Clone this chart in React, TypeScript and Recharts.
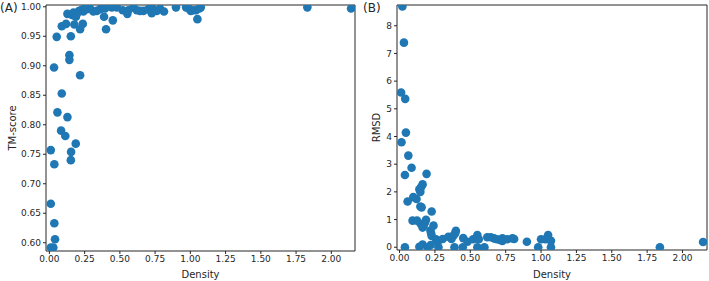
import React from 'react';
import { ScatterChart, Scatter, XAxis, YAxis, ReferenceArea } from 'recharts';

// Panel A: density vs TM-score
const densityA = [
  0.033, 0.052, 0.088, 0.118, 0.128, 0.152, 0.142, 0.142, 0.16, 0.17, 0.18, 0.188, 0.177, 0.207, 0.213,
  0.218, 0.218, 0.237, 0.241, 0.265, 0.289, 0.312, 0.336, 0.36, 0.379, 0.395, 0.388, 0.402, 0.443, 0.478,
  0.45, 0.52, 0.553, 0.56, 0.596, 0.62, 0.643, 0.667, 0.702, 0.726, 0.738, 0.762, 0.726, 0.785, 0.813,
  0.898, 0.97, 0.988, 1.003, 1.021, 1.04, 1.064, 1.074, 1.05, 1.83, 2.14, 0.088, 0.057, 0.128, 0.083,
  0.113, 0.187, 0.01, 0.154, 0.152, 0.035, 0.01, 0.035, 0.04, 0.01, 0.028, 0.195, 0.23, 0.25,
];
const tmScore = [
  0.897, 0.949, 0.967, 0.971, 0.988, 0.95, 0.918, 0.91, 0.986, 0.99, 0.985, 0.983, 0.97, 0.992, 0.993,
  0.962, 0.884, 0.971, 0.992, 0.996, 0.997, 0.992, 0.993, 0.996, 0.999, 0.997, 0.983, 0.962, 0.999, 0.999,
  0.977, 0.994, 0.988, 0.994, 0.999, 0.994, 0.993, 0.993, 0.996, 0.999, 0.994, 0.993, 0.989, 0.997, 0.992,
  0.999, 0.999, 0.997, 0.993, 0.994, 0.994, 0.997, 0.999, 0.979, 0.999, 0.997, 0.853, 0.821, 0.813, 0.79,
  0.781, 0.768, 0.757, 0.754, 0.74, 0.733, 0.666, 0.633, 0.606, 0.592, 0.592, 0.988, 0.995, 0.997,
];

// Panel B: density vs RMSD
const densityB = [
  0.02, 0.031, 0.011, 0.04, 0.045, 0.014, 0.062, 0.085, 0.038, 0.191, 0.163, 0.152, 0.14, 0.147, 0.097,
  0.12, 0.057, 0.147, 0.156, 0.227, 0.092, 0.123, 0.187, 0.18, 0.15, 0.17, 0.163, 0.24, 0.218, 0.223,
  0.227, 0.258, 0.27, 0.305, 0.345, 0.367, 0.381, 0.398, 0.393, 0.45, 0.48, 0.52, 0.55, 0.56, 0.62,
  0.645, 0.668, 0.687, 0.71, 0.727, 0.727, 0.763, 0.798, 0.81, 0.9, 1.0, 1.03, 1.05, 1.07, 0.038,
  0.14, 0.163, 0.2, 0.22, 0.275, 0.388, 0.447, 0.55, 0.6, 0.98, 1.07, 1.84, 2.145,
];
const rmsd = [
  8.7, 7.39, 5.59, 5.36, 4.14, 3.79, 3.31, 2.87, 2.61, 2.65, 2.27, 2.17, 2.09, 2.0, 1.81,
  1.74, 1.65, 1.47, 1.44, 1.29, 0.96, 0.96, 0.99, 0.89, 0.84, 0.77, 0.71, 0.78, 0.6, 0.5,
  0.41, 0.29, 0.2, 0.3, 0.38, 0.3, 0.42, 0.59, 0.5, 0.33, 0.2, 0.29, 0.44, 0.29, 0.36,
  0.36, 0.32, 0.29, 0.26, 0.23, 0.32, 0.29, 0.32, 0.3, 0.2, 0.29, 0.29, 0.44, 0.23, 0.0,
  0.02, 0.1, 0.0, 0.08, 0.0, 0.0, 0.0, 0.0, 0.0, 0.0, 0.0, 0.0, 0.19,
];

const densityTicks = [0, 0.25, 0.5, 0.75, 1.0, 1.25, 1.5, 1.75, 2.0];
const tmTicks = [0.6, 0.65, 0.7, 0.75, 0.8, 0.85, 0.9, 0.95, 1.0];
const rmsdTicks = [0, 1, 2, 3, 4, 5, 6, 7, 8];

const BLUE = '#1f77b4';
const INK = '#262626';
const FONT = 'DejaVu Sans, sans-serif';
const tickStyle = { fill: INK, fontSize: 9, fontFamily: FONT };
const labelStyle = { fill: INK, fontSize: 10, fontFamily: FONT };

const Dot = (p: any) => <circle cx={p.cx} cy={p.cy} r={4.3} fill={BLUE} />;

const dataA = densityA.map((d, i) => ({ x: d, y: tmScore[i] }));
const dataB = densityB.map((d, i) => ({ x: d, y: rmsd[i] }));

interface PanelProps {
  data: { x: number; y: number }[];
  xDomain: [number, number];
  yDomain: [number, number];
  yTicks: number[];
  yFmt: (v: number) => string;
  yLabel: string;
  yLabelOffset: number;
  width: number;
  yAxisWidth: number;
  right: number;
  xAxisHeight: number;
}

const Panel: React.FC<PanelProps> = ({ data, xDomain, yDomain, yTicks, yFmt, yLabel, yLabelOffset, width, yAxisWidth, right, xAxisHeight }) => (
  <ScatterChart width={width} height={281} margin={{ top: 5, right, bottom: 0, left: 0 }}>
    <XAxis
      type="number"
      dataKey="x"
      domain={xDomain}
      ticks={densityTicks}
      allowDataOverflow
      height={xAxisHeight}
      axisLine={false}
      tickSize={3}
      tickMargin={2}
      tickLine={{ stroke: INK }}
      tick={tickStyle}
      tickFormatter={(v: number) => v.toFixed(2)}
      label={{ value: 'Density', position: 'insideBottom', offset: 3, style: labelStyle }}
    />
    <YAxis
      type="number"
      dataKey="y"
      domain={yDomain}
      ticks={yTicks}
      allowDataOverflow
      width={yAxisWidth}
      axisLine={false}
      tickSize={3}
      tickMargin={2}
      tickLine={{ stroke: INK }}
      tick={tickStyle}
      tickFormatter={yFmt}
      label={{ value: yLabel, angle: -90, position: 'insideLeft', offset: yLabelOffset, style: { ...labelStyle, textAnchor: 'middle' } }}
    />
    <Scatter data={data} shape={Dot} isAnimationActive={false} />
    <ReferenceArea
      x1={xDomain[0]}
      x2={xDomain[1]}
      y1={yDomain[0]}
      y2={yDomain[1]}
      fill="none"
      stroke={INK}
      strokeWidth={1}
      ifOverflow="visible"
    />
  </ScatterChart>
);

const tagStyle: React.CSSProperties = {
  position: 'absolute',
  top: 1,
  fontFamily: FONT,
  fontSize: 12,
  color: INK,
  lineHeight: '14px',
};

export default function App() {
  return (
    <div style={{ position: 'absolute', left: 0, top: 0, width: 709, height: 281, background: '#fff' }}>
      <div style={{ position: 'absolute', left: 0, top: 0 }}>
        <Panel
          data={dataA}
          xDomain={[-0.024, 2.168]}
          yDomain={[0.586, 1.003]}
          yTicks={tmTicks}
          yFmt={(v) => v.toFixed(2)}
          yLabel="TM-score"
          yLabelOffset={12}
          width={360}
          yAxisWidth={46}
          right={5}
          xAxisHeight={30}
        />
      </div>
      <div style={{ position: 'absolute', left: 350, top: 0 }}>
        <Panel
          data={dataB}
          xDomain={[-0.018, 2.173]}
          yDomain={[-0.1, 8.75]}
          yTicks={rmsdTicks}
          yFmt={(v) => String(v)}
          yLabel="RMSD"
          yLabelOffset={26}
          width={359}
          yAxisWidth={47}
          right={2}
          xAxisHeight={31}
        />
      </div>
      <span style={{ ...tagStyle, left: 0 }}>(A)</span>
      <span style={{ ...tagStyle, left: 363 }}>(B)</span>
    </div>
  );
}
